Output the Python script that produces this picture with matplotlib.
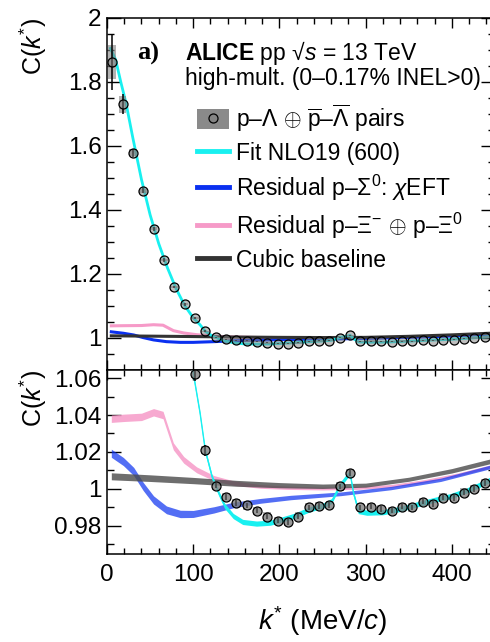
#!/usr/bin/env python3
"""p-Lambda correlation function, ALICE pp 13 TeV high-mult. (panel a)."""

import matplotlib

matplotlib.use("Agg")
import matplotlib.pyplot as plt
import numpy as np
from matplotlib.lines import Line2D
from matplotlib.patches import Patch
from matplotlib.ticker import FormatStrFormatter, MultipleLocator

plt.rcParams["font.family"] = ["Liberation Sans", "DejaVu Sans"]
plt.rcParams["mathtext.fontset"] = "custom"
plt.rcParams["mathtext.rm"] = "Liberation Sans"
plt.rcParams["mathtext.it"] = "Liberation Sans:italic"
plt.rcParams["mathtext.bf"] = "Liberation Sans:bold"

# data points: k* (MeV/c), C(k*), stat. and syst. uncertainties
k_data = [6, 18, 30, 42, 54, 66, 78, 90, 102, 114, 126, 138, 150, 162, 174, 186,
          198, 210, 222, 234, 246, 258, 270, 282, 294, 306, 318, 330, 342, 354,
          366, 378, 390, 402, 414, 426, 438, 450]
c_data = [1.863, 1.730, 1.579, 1.460, 1.341, 1.244, 1.160, 1.105, 1.062, 1.021,
          1.0018, 0.9955, 0.9922, 0.9910, 0.9882, 0.9850, 0.9828, 0.9819, 0.9850,
          0.9899, 0.9908, 0.9913, 1.0013, 1.0085, 0.9899, 0.9904, 0.9892, 0.9882,
          0.9904, 0.9899, 0.9931, 0.9919, 0.9953, 0.9950, 0.9980, 1.0000, 1.0031,
          1.0050]
stat_err = [0.088, 0.031, 0.013, 0.008, 0.006, 0.005, 0.004, 0.004, 0.0035, 0.003] + [0.0015] * 28
syst_err = [0.053, 0.026, 0.011, 0.007, 0.005, 0.004, 0.003, 0.003] + [0.0022] * 30

# Fit NLO19 (600)
k_fit = [4, 10, 16, 22, 30, 40, 50, 60, 70, 80, 90, 100, 108, 114, 122, 130, 137,
         147, 158, 174, 190, 201, 217, 235, 252, 261, 270, 279, 282, 286, 292, 302,
         321, 341, 360, 380, 399, 418, 438, 452]
c_fit = [1.905, 1.870, 1.800, 1.735, 1.625, 1.495, 1.385, 1.295, 1.220, 1.155,
         1.102, 1.063, 1.041, 1.021, 1.0065, 0.9975, 0.9905, 0.9850, 0.9818,
         0.9809, 0.9814, 0.9828, 0.9850, 0.9885, 0.9908, 0.9931, 1.0013, 1.0067,
         1.0085, 0.9977, 0.9877, 0.9868, 0.9871, 0.9889, 0.9913, 0.9937, 0.9958,
         0.9989, 1.0030, 1.0065]

# Residual p-Sigma0 (chiEFT), with band half-width
k_sig = [5, 19, 31, 42, 54, 69, 85, 100, 124, 147, 178, 213, 271, 329, 387, 452]
c_sig = [1.0193, 1.0148, 1.0094, 1.0013, 0.9940, 0.9886, 0.9864, 0.9864, 0.9886,
         0.9913, 0.9935, 0.9953, 0.9973, 1.0004, 1.0049, 1.0128]
w_sig = [0.0022, 0.0022, 0.0022, 0.0022, 0.0022, 0.0021, 0.0020, 0.0019, 0.0017,
         0.0015, 0.0013, 0.0012, 0.0010, 0.0009, 0.0009, 0.0010]

# Residual p-Xi- + p-Xi0, with band half-width
k_xi = [5, 20, 40, 54, 65, 77, 89, 104, 124, 147, 178, 209, 250, 290, 330, 368,
        407, 452]
c_xi = [1.0380, 1.0385, 1.0390, 1.0415, 1.0400, 1.0230, 1.0157, 1.0103, 1.0058,
        1.0031, 1.0013, 1.0006, 1.0002, 1.0005, 1.0016, 1.0042, 1.0078, 1.0130]
w_xi = [0.0020, 0.0020, 0.0020, 0.0020, 0.0020, 0.0019, 0.0018, 0.0016, 0.0014,
        0.0012, 0.0010, 0.0009, 0.0008, 0.0008, 0.0008, 0.0008, 0.0008, 0.0008]

# Cubic baseline, with band half-width
k_base = [5, 50, 100, 150, 200, 250, 300, 350, 400, 452]
c_base = [1.0068, 1.0058, 1.0045, 1.0030, 1.0020, 1.0014, 1.0020, 1.0052, 1.0098,
          1.0158]
w_base = [0.0019, 0.0018, 0.0017, 0.0016, 0.0014, 0.0012, 0.0011, 0.0011, 0.0012,
          0.0013]

CYAN = "#19f0f0"
BLUE = "#0a30f0"
PINK = "#f69ac8"
GREY = "#333333"

W, H = 490, 642


def fx(px):
    return px / W


def fy(py):
    return 1.0 - py / H


def style_axes(ax, ymajor, yminor):
    ax.set_xlim(0, 450)
    ax.xaxis.set_major_locator(MultipleLocator(100))
    ax.xaxis.set_minor_locator(MultipleLocator(20))
    ax.yaxis.set_major_locator(MultipleLocator(ymajor))
    ax.yaxis.set_minor_locator(MultipleLocator(yminor))
    ax.yaxis.set_major_formatter(FormatStrFormatter("%g"))
    ax.tick_params(which="both", direction="in", top=True, right=True, width=1.0,
                   labelsize=17.5, pad=4)
    ax.tick_params(axis="y", which="major", length=10)
    ax.tick_params(axis="y", which="minor", length=5)
    ax.tick_params(axis="x", which="major", length=7)
    ax.tick_params(axis="x", which="minor", length=4)
    for spine in ax.spines.values():
        spine.set_linewidth(1.1)


def draw_points(ax):
    k = np.asarray(k_data, dtype=float)
    c = np.asarray(c_data, dtype=float)
    syst = np.asarray(syst_err, dtype=float)
    ax.bar(k, 2 * syst, width=9, bottom=c - syst, color="#808080", alpha=0.6,
           linewidth=0, zorder=5)
    ax.errorbar(k, c, yerr=stat_err, fmt="none", ecolor="black", elinewidth=1.1,
                zorder=6)
    ax.plot(k, c, "o", ms=6.5, mfc=(0.5, 0.5, 0.5, 0.5), mec="black", mew=0.9,
            zorder=7)


def band(ax, k, c, w, **kw):
    c = np.asarray(c, dtype=float)
    w = np.asarray(w, dtype=float)
    ax.fill_between(k, c - w, c + w, lw=0, **kw)


fig = plt.figure(figsize=(W / 100, H / 100), dpi=100)
ax_top = fig.add_axes([fx(107), fy(370), (495 - 107) / W, (370 - 18) / H])
ax_bot = fig.add_axes([fx(107), fy(554), (495 - 107) / W, (554 - 370) / H])

# upper panel
ax_top.plot(k_xi, c_xi, color=PINK, lw=2.2, zorder=2)
ax_top.plot(k_sig, c_sig, color=BLUE, lw=2.2, zorder=2)
ax_top.plot(k_base, c_base, color=GREY, lw=2.2, zorder=3)
ax_top.plot(k_fit, c_fit, color=CYAN, lw=2.0, zorder=4)
draw_points(ax_top)
ax_top.set_ylim(0.9, 2.0)
style_axes(ax_top, 0.2, 0.05)
ax_top.tick_params(labelbottom=False)

# lower panel (zoom)
band(ax_bot, k_xi, c_xi, w_xi, color=PINK, alpha=0.85, zorder=2)
band(ax_bot, k_sig, c_sig, w_sig, color=BLUE, alpha=0.7, zorder=2)
band(ax_bot, k_base, c_base, w_base, color="#4a4a4a", alpha=0.8, zorder=3)
band(ax_bot, k_fit, c_fit, [0.0014] * len(k_fit), color=CYAN, zorder=4)
ax_bot.plot(k_fit, c_fit, color=CYAN, lw=1.0, zorder=4)
draw_points(ax_bot)
ax_bot.set_ylim(0.9647, 1.0644)
style_axes(ax_bot, 0.02, 0.01)
ax_bot.tick_params(axis="x", pad=7)

# axis titles
fig.text(fx(33), fy(18), r"C($k^{*}$)", rotation=90, ha="center", va="top", fontsize=18)
fig.text(fx(33), fy(370), r"C($k^{*}$)", rotation=90, ha="center", va="top", fontsize=18)
fig.text(fx(387), fy(630), r"$k^{*}$ (MeV/$c$)", ha="right", va="baseline", fontsize=20)

# header
fig.text(fx(137), fy(60), "a)", family="Liberation Serif", weight="bold",
         fontsize=19, va="baseline")
fig.text(fx(185), fy(60), "$\\mathbf{ALICE}$ pp \u221a$s$ = 13 TeV", fontsize=16.5,
         va="baseline")
fig.text(fx(185), fy(85), "high-mult. (0\u20130.17% INEL>0)", fontsize=16.5,
         va="baseline")

# legend
data_handle = (Patch(facecolor="#8a8a8a", edgecolor="none"),
               Line2D([], [], ls="none", marker="o", ms=6.5,
                      mfc=(0.5, 0.5, 0.5, 0.5), mec="black", mew=0.9))
handles = [
    data_handle,
    Line2D([], [], color=CYAN, lw=3.5),
    Line2D([], [], color=BLUE, lw=3.5),
    Line2D([], [], color=PINK, lw=3.5),
    Line2D([], [], color=GREY, lw=3.5),
]
labels = [
    r"p–$\Lambda$ $\oplus$ $\overline{\mathrm{p}}$–$\overline{\Lambda}$ pairs",
    "Fit NLO19 (600)",
    r"Residual p–$\Sigma^{0}$: $\chi$EFT",
    r"Residual p–$\Xi^{-}$ $\oplus$ p–$\Xi^{0}$",
    "Cubic baseline",
]
fig.legend(handles, labels, loc="upper left", bbox_to_anchor=(fx(197), fy(102)),
           bbox_transform=fig.transFigure, frameon=False, fontsize=16.5,
           borderpad=0, borderaxespad=0, handlelength=1.4, handleheight=1.0,
           handletextpad=0.3, labelspacing=0.35)

fig.savefig("out.png", dpi=100)
